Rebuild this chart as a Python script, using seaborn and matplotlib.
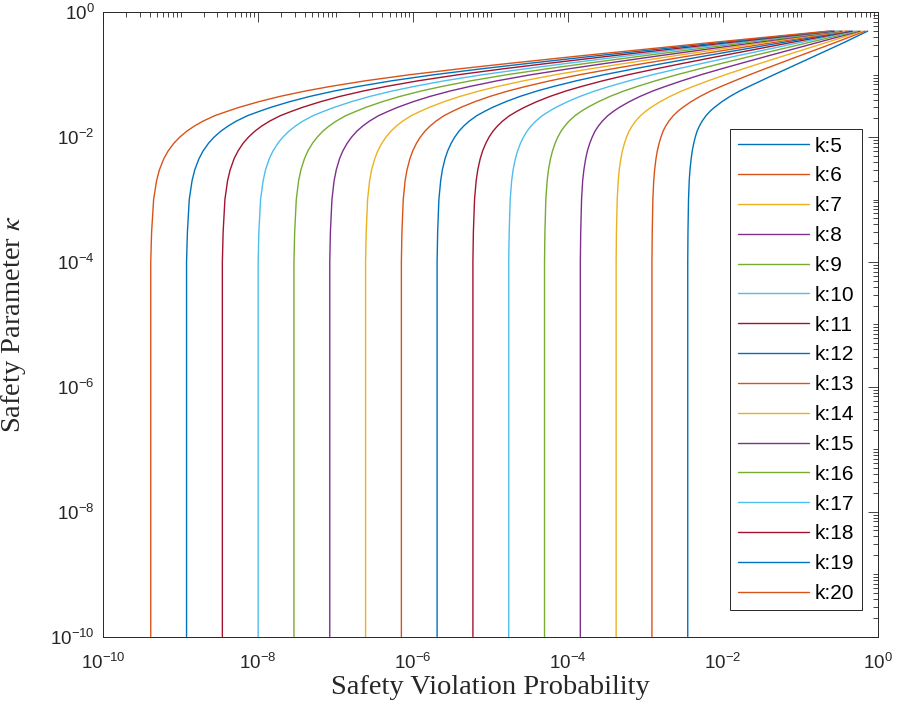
import numpy as np
import pandas as pd
import seaborn as sns
import matplotlib
matplotlib.use("Agg")
import matplotlib.pyplot as plt
from matplotlib.ticker import LogLocator, NullFormatter

kappa_levels = [1e-10, 1e-4, 3e-4, 1e-3, 2e-3, 3e-3, 4.5e-3, 6e-3, 8e-3, 1e-2, 1.25e-2, 1.5e-2,
                1.8e-2, 2.2e-2, 2.6e-2, 3e-2, 3.7e-2, 4.5e-2, 5.5e-2, 6.5e-2, 8e-2,
                0.1, 0.125, 0.15, 0.2, 0.33, 0.5]

# log10(safety violation probability) of each curve at kappa_levels
logp_k5 = [-2.455, -2.455, -2.452, -2.445, -2.436, -2.426, -2.411, -2.397, -2.377, -2.358, -2.334, -2.305, -2.270,
           -2.220, -2.167, -2.110, -2.014, -1.908, -1.784, -1.663, -1.509, -1.343, -1.172, -1.033, -0.814, -0.433, -0.133]
logp_k6 = [-2.917, -2.917, -2.913, -2.905, -2.894, -2.882, -2.865, -2.848, -2.824, -2.801, -2.773, -2.740, -2.699,
           -2.643, -2.582, -2.519, -2.412, -2.295, -2.157, -2.023, -1.849, -1.656, -1.453, -1.284, -1.016, -0.546, -0.166]
logp_k7 = [-3.379, -3.379, -3.375, -3.365, -3.352, -3.339, -3.318, -3.299, -3.271, -3.245, -3.212, -3.174, -3.129,
           -3.065, -2.997, -2.928, -2.811, -2.682, -2.531, -2.383, -2.190, -1.970, -1.733, -1.535, -1.219, -0.659, -0.200]
logp_k8 = [-3.841, -3.841, -3.836, -3.825, -3.811, -3.795, -3.772, -3.750, -3.719, -3.688, -3.651, -3.609, -3.558,
           -3.488, -3.412, -3.337, -3.209, -3.069, -2.904, -2.743, -2.530, -2.283, -2.014, -1.786, -1.421, -0.772, -0.233]
logp_k9 = [-4.303, -4.303, -4.298, -4.286, -4.269, -4.252, -4.226, -4.200, -4.166, -4.132, -4.089, -4.043, -3.988,
           -3.911, -3.828, -3.746, -3.607, -3.457, -3.277, -3.103, -2.870, -2.596, -2.295, -2.038, -1.624, -0.885, -0.266]
logp_k10 = [-4.765, -4.765, -4.759, -4.746, -4.727, -4.708, -4.679, -4.651, -4.613, -4.575, -4.528, -4.478, -4.417,
            -4.334, -4.243, -4.155, -4.006, -3.844, -3.651, -3.463, -3.210, -2.910, -2.576, -2.289, -1.826, -0.998,
            -0.300]
logp_k11 = [-5.227, -5.227, -5.221, -5.206, -5.185, -5.164, -5.133, -5.102, -5.060, -5.019, -4.967, -4.912, -4.846,
            -4.756, -4.658, -4.564, -4.404, -4.231, -4.024, -3.823, -3.551, -3.223, -2.856, -2.540, -2.028, -1.111,
            -0.333]
logp_k12 = [-5.689, -5.689, -5.682, -5.666, -5.643, -5.621, -5.587, -5.553, -5.507, -5.462, -5.406, -5.347, -5.276,
            -5.179, -5.073, -4.973, -4.802, -4.618, -4.397, -4.183, -3.891, -3.536, -3.137, -2.791, -2.231, -1.224,
            -0.366]
logp_k13 = [-6.150, -6.150, -6.143, -6.126, -6.102, -6.077, -6.040, -6.004, -5.955, -5.906, -5.845, -5.781, -5.705,
            -5.602, -5.488, -5.381, -5.201, -5.005, -4.771, -4.543, -4.231, -3.850, -3.418, -3.042, -2.433, -1.337,
            -0.400]
logp_k14 = [-6.612, -6.612, -6.604, -6.586, -6.560, -6.534, -6.494, -6.455, -6.402, -6.349, -6.284, -6.216, -6.135,
            -6.025, -5.903, -5.790, -5.599, -5.392, -5.144, -4.903, -4.571, -4.163, -3.699, -3.293, -2.636, -1.450,
            -0.433]
logp_k15 = [-7.074, -7.074, -7.066, -7.046, -7.018, -6.990, -6.948, -6.906, -6.849, -6.793, -6.723, -6.650, -6.564,
            -6.447, -6.318, -6.199, -5.997, -5.779, -5.517, -5.263, -4.912, -4.476, -3.979, -3.544, -2.838, -1.563,
            -0.466]
logp_k16 = [-7.536, -7.536, -7.527, -7.506, -7.476, -7.446, -7.401, -7.357, -7.296, -7.236, -7.162, -7.085, -6.993,
            -6.870, -6.733, -6.608, -6.396, -6.166, -5.891, -5.623, -5.252, -4.790, -4.260, -3.795, -3.040, -1.676,
            -0.500]
logp_k17 = [-7.998, -7.998, -7.989, -7.967, -7.934, -7.903, -7.855, -7.807, -7.743, -7.680, -7.600, -7.519, -7.423,
            -7.293, -7.149, -7.017, -6.794, -6.554, -6.264, -5.983, -5.592, -5.103, -4.541, -4.047, -3.243, -1.789,
            -0.533]
logp_k18 = [-8.460, -8.460, -8.450, -8.427, -8.393, -8.359, -8.309, -8.258, -8.191, -8.123, -8.039, -7.954, -7.852,
            -7.715, -7.564, -7.426, -7.192, -6.941, -6.637, -6.343, -5.932, -5.416, -4.822, -4.298, -3.445, -1.902,
            -0.566]
logp_k19 = [-8.922, -8.922, -8.911, -8.887, -8.851, -8.816, -8.762, -8.709, -8.638, -8.567, -8.478, -8.388, -8.282,
            -8.138, -7.979, -7.835, -7.591, -7.328, -7.011, -6.703, -6.273, -5.730, -5.102, -4.549, -3.648, -2.015,
            -0.600]
logp_k20 = [-9.384, -9.384, -9.373, -9.347, -9.309, -9.272, -9.216, -9.160, -9.085, -9.010, -8.917, -8.823, -8.711,
            -8.561, -8.394, -8.244, -7.989, -7.715, -7.384, -7.063, -6.613, -6.043, -5.383, -4.800, -3.850, -2.128,
            -0.633]

ks = list(range(5, 21))
curves = [logp_k5, logp_k6, logp_k7, logp_k8, logp_k9, logp_k10, logp_k11, logp_k12,
          logp_k13, logp_k14, logp_k15, logp_k16, logp_k17, logp_k18, logp_k19, logp_k20]

# matlab default colour order
matlab_colors = ["#0072BD", "#D95319", "#EDB120", "#7E2F8E", "#77AC30", "#4DBEEE", "#A2142F"]

sns.set_style("white")
plt.rcParams["font.family"] = ["Liberation Sans", "DejaVu Sans"]
plt.rcParams["mathtext.fontset"] = "stix"
axis_col = "#262626"

fig = plt.figure(figsize=(9, 7.06), dpi=100)
ax = fig.add_axes([103 / 900, 1 - 636.5 / 706, 775 / 900, 624.2 / 706])

for i, (k, vals) in enumerate(zip(ks, curves)):
    df = pd.DataFrame({"p": 10 ** np.array(vals), "kappa": kappa_levels})
    sns.lineplot(data=df, x="p", y="kappa", ax=ax, color=matlab_colors[i % 7],
                 lw=1.0, sort=False, estimator=None, label="k:%d" % k, legend=False)

ax.set_xscale("log")
ax.set_yscale("log")
ax.set_xlim(1e-10, 1)
ax.set_ylim(1e-10, 1)
ax.set_xticks([1e-10, 1e-8, 1e-6, 1e-4, 1e-2, 1])
ax.set_yticks([1e-10, 1e-8, 1e-6, 1e-4, 1e-2, 1])
for axis in (ax.xaxis, ax.yaxis):
    axis.set_minor_locator(LogLocator(base=10, subs=np.arange(1, 10), numticks=100))
    axis.set_minor_formatter(NullFormatter())

ax.tick_params(which="both", direction="in", top=True, right=True, color=axis_col,
               labelcolor=axis_col, width=0.6)
ax.tick_params(which="major", length=7, labelsize=13.5)
ax.tick_params(which="minor", length=3.5)
ax.tick_params(axis="x", which="major", pad=12)
ax.tick_params(axis="y", which="major", pad=6)
for s in ax.spines.values():
    s.set_color(axis_col)
    s.set_linewidth(0.7)

ax.set_xlabel("Safety Violation Probability", family="Liberation Serif", fontsize=20.5,
              color=axis_col, va="center")
ax.set_ylabel(r"Safety Parameter $\kappa$", family="Liberation Serif", fontsize=20.5,
              color=axis_col, va="center")
ax.xaxis.set_label_coords(0.5, -0.0825)
ax.yaxis.set_label_coords(-0.115, 0.5)

leg = ax.legend(loc="upper right", bbox_to_anchor=(0.979, 0.8126), borderaxespad=0,
                fontsize=15, handlelength=3.4, handletextpad=0.3, borderpad=0.35,
                labelspacing=0.52, fancybox=False, framealpha=1, edgecolor=axis_col)
leg.get_frame().set_linewidth(0.7)
for t in leg.get_texts():
    t.set_color("black")

fig.savefig("out.png", dpi=100)
